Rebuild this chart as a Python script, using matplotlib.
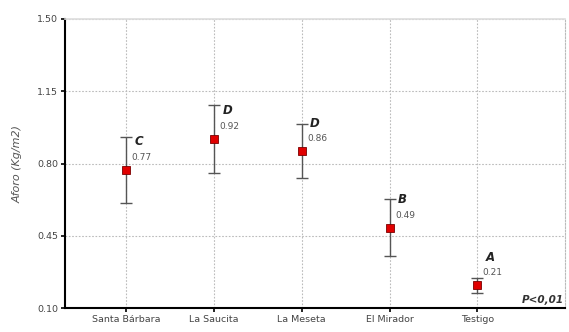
import numpy as np
import matplotlib
matplotlib.use("Agg")
import matplotlib.pyplot as plt

plt.rcParams["font.family"] = ["DejaVu Sans"]

# Mean yield per site with error bars and group letters
sites = ["Santa Bárbara", "La Saucita", "La Meseta", "El Mirador", "Testigo"]
means = [0.77, 0.92, 0.86, 0.49, 0.21]
errors = [0.16, 0.165, 0.13, 0.14, 0.035]
groups = ["C", "D", "D", "B", "A"]
y_ticks = [0.10, 0.45, 0.80, 1.15, 1.50]

x = np.arange(1, len(sites) + 1)

fig = plt.figure(figsize=(5.69, 3.32), dpi=100)
ax = fig.add_axes([0.114, 0.072, 0.879, 0.871])

ax.errorbar(x, means, yerr=errors, fmt="none", ecolor="#555555",
            elinewidth=1.0, capsize=4, capthick=1.0, zorder=3)
ax.plot(x, means, "s", color="#e00000", markeredgecolor="#7a0000",
        markeredgewidth=0.6, markersize=6, zorder=4)

for xi, m, g in zip(x, means, groups):
    ax.annotate(f"{m:.2f}", (xi, m), xytext=(4, 9), textcoords="offset points",
                fontsize=6.5, color="#555555", va="center", ha="left")
    ax.annotate(g, (xi, m), xytext=(6, 20), textcoords="offset points",
                fontsize=8.5, color="#222222", fontweight="bold",
                fontstyle="italic", va="center", ha="left")

ax.set_xlim(0.3, 6.0)
ax.set_ylim(0.10, 1.50)
ax.set_xticks(x)
ax.set_xticklabels(sites)
ax.set_yticks(y_ticks)
ax.set_yticklabels([f"{v:.2f}" for v in y_ticks])
ax.tick_params(labelsize=6.8, labelcolor="#444444", length=3, width=1.2,
               direction="out", pad=2)
ax.set_ylabel("Aforo (Kg/m2)", fontsize=8, fontstyle="italic",
              color="#555555", labelpad=10)

ax.grid(True, linestyle=(0, (1.5, 1.5)), color="#bbbbbb", linewidth=0.8)
ax.set_axisbelow(True)

ax.spines["left"].set_linewidth(1.5)
ax.spines["bottom"].set_linewidth(1.5)
ax.spines["top"].set_color("#dddddd")
ax.spines["top"].set_linewidth(1.2)
ax.spines["right"].set_color("#bbbbbb")
ax.spines["right"].set_linestyle((0, (1.5, 1.5)))
ax.spines["right"].set_linewidth(0.8)

ax.text(0.998, 0.012, "P<0,01", transform=ax.transAxes, ha="right",
        va="bottom", fontsize=7.5, fontweight="bold", fontstyle="italic",
        color="#333333")

fig.savefig("out.png", dpi=100)
